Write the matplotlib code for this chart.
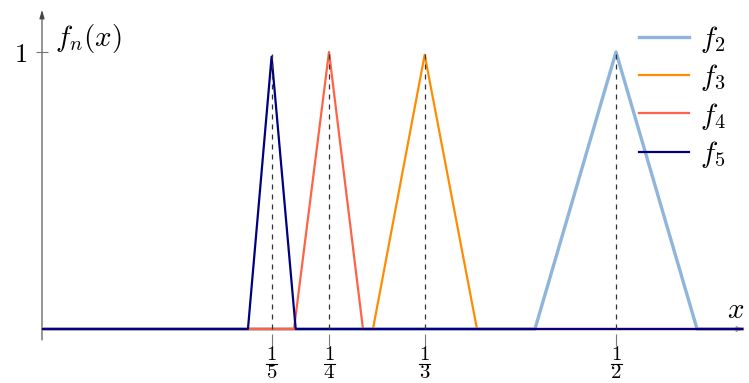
import matplotlib
matplotlib.use("Agg")
import matplotlib.pyplot as plt

plt.rcParams['mathtext.fontset'] = 'cm'
plt.rcParams['font.family'] = ['DejaVu Serif']

# Data (x, y) for each triangular function
labels = [r'$f_2$', r'$f_3$', r'$f_4$', r'$f_5$']
colors = ['#8fb5dc', '#ff8c00', '#ff6347', '#000080']
widths = [2.4, 1.6, 1.6, 1.6]
x_f2 = [0.0, 0.4294, 0.5, 0.5706, 0.61]
y_f2 = [0.0, 0.0, 1.0, 0.0, 0.0]
x_f3 = [0.0, 0.2883, 1/3, 0.3789, 0.61]
y_f3 = [0.0, 0.0, 0.99, 0.0, 0.0]
x_f4 = [0.0, 0.2195, 0.25, 0.2796, 0.61]
y_f4 = [0.0, 0.0, 1.0, 0.0, 0.0]
x_f5 = [0.0, 0.1794, 0.2, 0.221, 0.61]
y_f5 = [0.0, 0.0, 0.983, 0.0, 0.0]
peaks = [1/5, 1/4, 1/3, 1/2]
tick_num = ['1', '1', '1', '1']
tick_den = ['5', '4', '3', '2']

W, H = 749, 383
fig = plt.figure(figsize=(W/100, H/100), dpi=100)
x0px, x1px = 42, 745
y0px, y1px = 340, 10
ax = fig.add_axes([x0px/W, 1 - y0px/H, (x1px-x0px)/W, (y0px-y1px)/H])
xmax = (x1px - x0px) / 1148
ax.set_xlim(0, xmax)
ax.set_ylim(-11/277, (329-10)/277)

def ypx(p):
    return (329 - p) / 277

for s in ax.spines.values():
    s.set_visible(False)

# axes lines with arrows
ax.annotate('', xy=(xmax, 0), xytext=(0, 0), xycoords='data',
            arrowprops=dict(arrowstyle='-|>,head_length=0.5,head_width=0.15', color='#444444', lw=0.8, shrinkA=0, shrinkB=0), zorder=1)
ax.annotate('', xy=(0, ypx(10)), xytext=(0, ypx(340)), xycoords='data',
            arrowprops=dict(arrowstyle='-|>,head_length=0.5,head_width=0.15', color='#444444', lw=0.8, shrinkA=0, shrinkB=0), zorder=1)

series = [(x_f2, y_f2), (x_f3, y_f3), (x_f4, y_f4), (x_f5, y_f5)]
for (xs, ys), lab, c, w in zip(series, labels, colors, widths):
    ax.plot(xs, ys, color=c, lw=w, label=lab, zorder=3, solid_joinstyle='round')

for p in peaks:
    ax.plot([p, p], [0, 1], color='#333333', lw=0.9, ls=(0, (4, 4)), zorder=4)

ax.set_xticks(peaks)
ax.set_xticklabels([''] * len(peaks))
for p, nu, de in zip(peaks, tick_num, tick_den):
    ax.text(p, ypx(355), '$' + nu + '$', fontsize=15, ha='center', va='center', clip_on=False)
    ax.text(p, ypx(372.5), '$' + de + '$', fontsize=15, ha='center', va='center', clip_on=False)
    ax.plot([p - 5.5/1148, p + 5.5/1148], [ypx(364), ypx(364)], color='black', lw=0.8, clip_on=False)
ax.set_yticks([1])
ax.set_yticklabels([r'$1$'], fontsize=19)
ax.tick_params(axis='both', direction='inout', length=9, width=0.8, color='#777777', pad=2)
ax.tick_params(axis='y', pad=6)

ax.text(0.011, 1.05, r'$f_n(x)$', fontsize=21, ha='left', va='center')
ax.text(0.604, 0.068, r'$x$', fontsize=21, ha='center', va='center')

ax.legend(loc='upper left', bbox_to_anchor=((639-42)/(745-42), 1 - (24-10)/330),
          frameon=False, fontsize=21, handlelength=1.7, handletextpad=0.4,
          labelspacing=0.25, borderpad=0, borderaxespad=0)

fig.savefig('out.png', dpi=100)
